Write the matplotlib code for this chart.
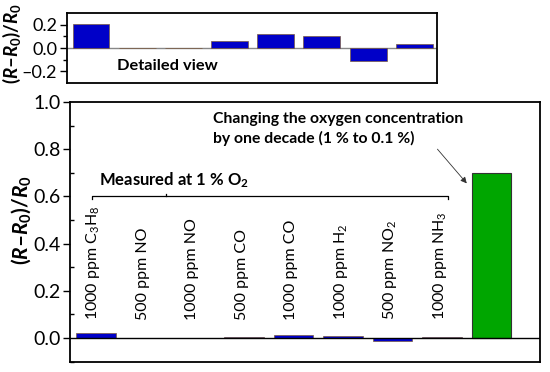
import matplotlib
matplotlib.use('Agg')
import matplotlib.pyplot as plt
import numpy as np

plt.rcParams['font.family'] = ['Lato', 'DejaVu Sans']
plt.rcParams['mathtext.fontset'] = 'custom'
plt.rcParams['mathtext.rm'] = 'Lato'
plt.rcParams['mathtext.bf'] = 'Lato:bold'
plt.rcParams['mathtext.it'] = 'Lato:bold:italic'

# gas exposures (measured at 1 % O2)
gases = [r'1000 ppm C$_3$H$_8$', '500 ppm NO', '1000 ppm NO', '500 ppm CO',
         '1000 ppm CO', r'1000 ppm H$_2$', r'500 ppm NO$_2$', r'1000 ppm NH$_3$']
detail_vals = [0.205, 0.0, 0.003, 0.063, 0.120, 0.100, -0.109, 0.031]
main_vals = [0.021, 0.0, 0.0003, 0.006, 0.012, 0.010, -0.011, 0.003]
oxygen_val = 0.70

blue = '#0000c8'
green = '#00a600'

fig = plt.figure(figsize=(5.5, 3.72), dpi=100)
ax = fig.add_axes([0.1273, 0.0282, 0.8545, 0.6976])
ax_d = fig.add_axes([0.1218, 0.7777, 0.6727, 0.1865])

# main panel
x = np.arange(len(gases))
ax.bar(x, main_vals, width=0.8, color=blue, edgecolor='#7a5a40', linewidth=0.5)
ax.bar(len(gases), oxygen_val, width=0.8, color=green, edgecolor='#333333', linewidth=0.8)
ax.axhline(0, color='black', lw=1.0)
ax.set_xlim(-0.52, 8.98)
ax.set_ylim(-0.1, 1.0)
ax.set_yticks(np.arange(0, 1.01, 0.2))
ax.set_yticks(np.arange(-0.1, 1.0, 0.1), minor=True)
ax.set_yticklabels(['%.1f' % v for v in np.arange(0, 1.01, 0.2)])
ax.set_xticks([])
ax.tick_params(axis='y', which='major', direction='out', length=5, labelsize=14, width=1, pad=2)
ax.tick_params(axis='y', which='minor', direction='in', length=3, width=1)
for s in ax.spines.values():
    s.set_linewidth(1.3)

for xi, g in zip(x, gases):
    ax.text(xi - 0.05, 0.075, g, rotation=90, ha='center', va='bottom', fontsize=11.5)

# bracket for gas measurements
ax.plot([-0.08, -0.08, 7.13, 7.13], [0.59, 0.6, 0.6, 0.59], color='black', lw=0.9)
ax.plot([1.42, 1.42], [0.6, 0.61], color='black', lw=0.9)
ax.text(0.06, 0.625, r'Measured at 1 % O$_{\mathbf{2}}$', fontsize=12, fontweight='bold',
        ha='left', va='bottom')

ax.annotate('Changing the oxygen concentration\nby one decade (1 % to 0.1 %)',
            xy=(7.50, 0.655), xytext=(2.38, 0.885), fontsize=11.3, fontweight='bold',
            ha='left', va='center', linespacing=1.45,
            arrowprops=dict(arrowstyle='-|>', color='#333333', lw=0.6,
                            shrinkA=0, shrinkB=0, mutation_scale=9,
                            relpos=(0.85, 0.3)))

# detailed view
xd = np.arange(len(detail_vals))
ax_d.bar(xd, detail_vals, width=0.8, color=blue, edgecolor='#7a5a40', linewidth=0.5)
ax_d.axhline(0, color='#888888', lw=1.0, zorder=0)
ax_d.set_xlim(-0.52, 7.49)
ax_d.set_ylim(-0.3, 0.3)
ax_d.set_yticks([-0.2, 0.0, 0.2])
ax_d.set_yticklabels(['\u20130.2', '0.0', '0.2'])
ax_d.set_yticks([-0.1, 0.1], minor=True)
ax_d.set_xticks([])
ax_d.tick_params(axis='y', which='major', direction='out', length=5, labelsize=13, width=1, pad=2)
ax_d.tick_params(axis='y', which='minor', direction='out', length=3, width=1)
for s in ax_d.spines.values():
    s.set_linewidth(1.3)
ax_d.text(0.56, -0.158, 'Detailed view', fontsize=11.8, fontweight='bold', ha='left', va='center')

ylab = '$\\mathbf{(}R\\mathbf{\u2013}R_{\\mathbf{0}}\\mathbf{)/}R_{\\mathbf{0}}$'
fig.text(12 / 550, 1 - 43 / 372, ylab, rotation=90, ha='center', va='center', fontsize=13.5)
fig.text(21 / 550, 1 - 220 / 372, ylab, rotation=90, ha='center', va='center', fontsize=15)

fig.savefig('out.png', dpi=100)
